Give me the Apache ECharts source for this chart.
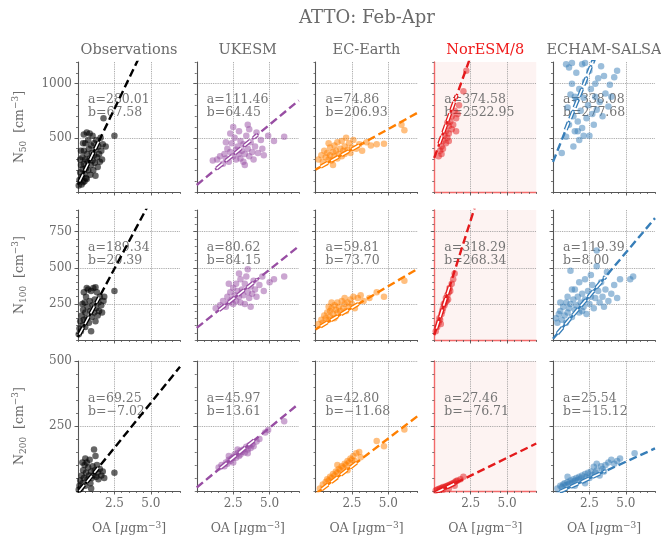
<!DOCTYPE html>
<html>
<head>
<meta charset="utf-8">
<script src="https://cdn.jsdelivr.net/npm/echarts@6/dist/echarts.min.js"></script>
<style>
  html, body { margin: 0; padding: 0; background: #ffffff; }
  #chart { width: 661px; height: 542px; }
</style>
</head>
<body>
<div id="chart"></div>
<script>
// ---- categories / labels ----
const chartTitle = 'ATTO: Feb-Apr';
const models = ['Observations', 'UKESM', 'EC-Earth', 'NorESM/8', 'ECHAM-SALSA'];
const modelColors = ['#000000', '#984ea3', '#ff7f00', '#e41a1c', '#377eb8'];
const interceptScale = [1, 1, 1, 8, 1];   // NorESM intercept is shown undivided
const sizeBins = ['50', '100', '200'];

// ---- axes ----
const xMax = 7;
const xMajorTicks = [2.5, 5.0];
const xMinorStep = 0.5;
const yMax = [1200, 900, 500];
const yMajorTicks = [[500, 1000], [250, 500, 750], [250, 500]];
const yMinorStep = [100, 50, 50];

// ---- regression fits: N = a * OA + b ----
const slopeN50 = [280.01, 111.46, 74.86, 374.58, 338.08];
const interceptN50 = [67.58, 64.45, 206.93, 2522.95, 277.68];
const slopeN100 = [189.34, 80.62, 59.81, 318.29, 119.39];
const interceptN100 = [20.39, 84.15, 73.70, 268.34, 8.00];
const slopeN200 = [69.25, 45.97, 42.80, 27.46, 25.54];
const interceptN200 = [-7.02, 13.61, -11.68, -76.71, -15.12];

// ---- scatter values [OA, N] ----
const obsN50 = [[0.05,60],[0.1,110],[0.15,180],[0.2,250],[0.25,140],[0.3,210],[0.3,320],[0.35,90],[0.4,260],[0.4,380],[0.45,170],[0.5,300],[0.5,450],[0.55,220],[0.6,120],[0.6,350],[0.65,280],[0.7,480],[0.7,200],[0.75,400],[0.8,310],[0.8,540],[0.85,160],[0.9,250],[0.9,430],[0.95,360],[1.0,290],[1.0,520],[1.05,200],[1.1,340],[1.1,450],[1.15,270],[1.2,390],[1.2,150],[1.25,480],[1.3,320],[1.35,230],[1.4,420],[1.45,350],[1.5,280],[1.55,500],[1.6,380],[1.65,300],[1.7,440],[1.75,680],[1.9,420],[2.5,520],[0.2,380],[0.4,530],[0.6,550],[0.15,300],[0.35,450],[0.55,130],[0.25,70],[0.45,100]];
const ukesmN50 = [[1.1,290],[1.4,300],[1.6,330],[1.8,260],[1.9,350],[2.0,310],[2.1,400],[2.2,280],[2.3,370],[2.4,450],[2.5,600],[2.5,330],[2.6,500],[2.7,390],[2.7,300],[2.8,420],[2.9,350],[3.0,470],[3.0,310],[3.1,380],[3.2,440],[3.2,280],[3.3,350],[3.4,520],[3.5,620],[3.5,400],[3.6,330],[3.7,460],[3.8,370],[3.9,300],[4.0,420],[4.1,550],[4.2,360],[4.4,480],[4.5,400],[4.6,340],[4.9,520],[5.3,470],[6.0,510],[2.3,540],[2.9,560],[3.3,250],[2.0,460],[3.6,580]];
const ecearthN50 = [[0.2,300],[0.4,340],[0.5,280],[0.6,380],[0.7,320],[0.8,360],[0.9,300],[1.0,410],[1.0,340],[1.1,290],[1.2,370],[1.3,330],[1.3,430],[1.4,380],[1.5,310],[1.5,460],[1.6,350],[1.7,400],[1.8,330],[1.8,470],[1.9,380],[2.0,420],[2.0,350],[2.1,500],[2.2,390],[2.3,450],[2.4,360],[2.5,410],[2.6,480],[2.8,400],[3.0,440],[3.2,380],[3.5,460],[3.8,430],[4.2,440],[4.7,445],[5.9,620],[6.1,570],[1.2,250],[0.9,450]];
const noresmN50 = [[0.3,330],[0.4,380],[0.5,420],[0.6,470],[0.6,400],[0.7,520],[0.8,450],[0.8,560],[0.9,500],[1.0,610],[1.0,540],[1.1,650],[1.2,580],[1.2,700],[1.3,620],[1.4,750],[1.5,680],[1.6,720],[1.7,800],[2.0,930],[2.2,1120],[0.5,350],[1.0,470],[1.5,560],[0.9,640]];
const echamN50 = [[0.6,360],[0.9,510],[1.1,620],[1.0,780],[1.2,900],[1.1,1150],[1.3,1000],[1.4,700],[1.4,420],[1.5,560],[1.6,850],[1.6,1100],[1.7,650],[1.8,950],[1.8,480],[1.9,750],[2.0,1180],[2.0,590],[2.1,520],[2.1,870],[2.2,1020],[2.3,680],[2.4,800],[2.5,520],[2.5,1120],[2.6,950],[2.7,720],[2.8,620],[2.9,880],[3.0,760],[3.1,1050],[3.2,830],[3.3,1160],[3.4,700],[3.5,1070],[3.6,910],[3.8,790],[4.0,880],[4.2,1060],[4.4,1120],[1.3,1190],[2.2,1190],[1.7,560],[2.9,1000],[0.9,1180],[1.5,880],[3.9,990]];

const obsN100 = [[0.05,40],[0.1,80],[0.15,130],[0.2,60],[0.25,170],[0.3,100],[0.35,210],[0.4,140],[0.45,260],[0.5,90],[0.5,190],[0.55,300],[0.6,150],[0.65,230],[0.7,350],[0.75,120],[0.8,270],[0.85,200],[0.9,340],[0.95,160],[1.0,240],[1.05,360],[1.1,190],[1.15,280],[1.2,130],[1.25,220],[1.3,330],[1.35,170],[1.4,260],[1.45,200],[1.5,300],[1.6,240],[1.65,190],[1.75,270],[1.8,300],[2.5,340],[0.3,250],[0.6,360],[0.9,60],[1.2,365],[0.4,330]];
const ukesmN100 = [[1.3,220],[1.6,240],[1.8,270],[2.0,230],[2.1,300],[2.2,260],[2.3,330],[2.4,280],[2.5,360],[2.5,250],[2.6,310],[2.7,390],[2.7,270],[2.8,340],[2.9,300],[3.0,420],[3.0,260],[3.1,350],[3.2,310],[3.3,390],[3.3,250],[3.4,440],[3.5,490],[3.5,330],[3.6,290],[3.7,370],[3.8,320],[3.9,410],[4.0,350],[4.1,300],[4.3,380],[4.5,440],[4.6,340],[5.0,400],[5.3,420],[6.0,440],[2.2,390],[2.9,460],[3.7,230]];
const ecearthN100 = [[0.2,110],[0.4,140],[0.5,120],[0.6,170],[0.7,150],[0.8,190],[0.9,140],[1.0,200],[1.0,160],[1.1,220],[1.2,180],[1.3,240],[1.3,150],[1.4,210],[1.5,190],[1.5,260],[1.6,230],[1.7,200],[1.8,270],[1.9,220],[2.0,250],[2.0,290],[2.1,200],[2.2,260],[2.3,230],[2.4,280],[2.5,250],[2.6,300],[2.7,220],[2.9,290],[3.1,310],[3.3,270],[3.7,290],[4.2,330],[4.7,300],[6.1,410],[1.1,260],[0.9,230]];
const noresmN100 = [[0.1,60],[0.2,90],[0.3,120],[0.35,150],[0.4,140],[0.5,180],[0.55,200],[0.6,220],[0.7,240],[0.75,260],[0.8,290],[0.85,270],[0.9,310],[1.0,330],[1.05,360],[1.1,340],[1.2,390],[1.3,420],[1.4,460],[0.45,110],[0.65,250],[0.95,280]];
const echamN100 = [[0.2,150],[0.3,120],[0.4,180],[0.5,200],[0.6,140],[0.7,230],[0.8,170],[0.9,260],[1.0,190],[1.0,300],[1.1,220],[1.2,480],[1.2,250],[1.3,160],[1.4,280],[1.5,210],[1.5,350],[1.6,240],[1.7,300],[1.8,190],[1.8,400],[1.9,260],[2.0,320],[2.1,230],[2.2,420],[2.2,280],[2.3,180],[2.4,340],[2.5,250],[2.6,300],[2.7,380],[2.8,220],[2.9,290],[3.0,510],[3.0,620],[3.1,340],[3.2,260],[3.3,400],[3.4,300],[3.5,230],[3.6,350],[3.7,470],[3.8,270],[4.0,320],[4.2,380],[4.4,290],[4.6,420],[5.3,420],[5.5,440],[0.5,260],[0.9,120],[1.3,350],[2.0,200],[2.6,450]];

const obsN200 = [[0.05,5],[0.1,20],[0.15,40],[0.2,10],[0.25,60],[0.3,30],[0.35,80],[0.4,50],[0.45,100],[0.5,20],[0.55,70],[0.6,110],[0.65,45],[0.7,90],[0.75,60],[0.8,120],[0.85,30],[0.9,75],[0.95,50],[1.0,95],[1.05,60],[1.1,160],[1.15,80],[1.2,135],[1.25,55],[1.3,100],[1.35,70],[1.4,45],[1.5,85],[1.6,60],[1.7,75],[1.8,50],[2.5,70],[0.3,110],[0.5,125],[0.9,10]];
const ukesmN200 = [[1.5,90],[1.7,100],[1.9,95],[2.0,110],[2.1,105],[2.2,120],[2.3,115],[2.4,125],[2.5,130],[2.5,110],[2.6,140],[2.7,128],[2.8,145],[2.9,135],[3.0,155],[3.0,140],[3.1,150],[3.2,160],[3.3,148],[3.4,170],[3.5,160],[3.6,175],[3.7,165],[3.8,180],[3.9,172],[4.1,190],[4.3,200],[4.7,225],[4.9,235],[6.0,268],[2.2,135],[2.8,160],[3.5,145]];
const ecearthN200 = [[0.3,10],[0.5,25],[0.7,35],[0.8,45],[0.9,40],[1.0,55],[1.1,50],[1.2,65],[1.3,60],[1.4,75],[1.5,70],[1.6,85],[1.7,80],[1.8,95],[1.9,90],[2.0,105],[2.1,100],[2.2,115],[2.3,110],[2.4,125],[2.5,120],[2.6,135],[2.7,115],[2.8,145],[3.0,150],[3.1,130],[4.2,192],[4.7,172],[6.1,237],[1.5,100],[2.2,80]];
const noresmN200 = [[0.1,2],[0.2,5],[0.3,8],[0.4,10],[0.5,12],[0.6,15],[0.7,14],[0.8,18],[0.9,20],[1.0,22],[1.1,25],[1.2,28],[1.3,30],[1.4,34],[1.5,38],[1.6,40],[1.8,45],[2.0,55],[0.6,5],[1.0,10],[1.4,20]];
const echamN200 = [[0.3,10],[0.5,20],[0.6,15],[0.7,25],[0.8,30],[0.9,22],[1.0,35],[1.1,28],[1.2,40],[1.3,32],[1.4,45],[1.5,38],[1.6,50],[1.7,42],[1.8,55],[1.9,48],[2.0,60],[2.1,40],[2.2,65],[2.3,55],[2.4,70],[2.5,50],[2.6,75],[2.7,62],[2.8,93],[2.9,70],[3.0,80],[3.2,60],[3.3,95],[3.4,85],[3.5,75],[3.6,100],[3.8,110],[4.0,120],[4.2,105],[4.4,115],[4.6,125],[5.6,145],[1.0,55],[1.5,20],[2.2,30],[3.0,105]];

const pointsByRow = [
  [obsN50, ukesmN50, ecearthN50, noresmN50, echamN50],
  [obsN100, ukesmN100, ecearthN100, noresmN100, echamN100],
  [obsN200, ukesmN200, ecearthN200, noresmN200, echamN200]
];
const slopesByRow = [slopeN50, slopeN100, slopeN200];
const interceptsByRow = [interceptN50, interceptN100, interceptN200];

// ---- layout ----
const FONT = 'DejaVu Serif';
const TEXT_GREY = '#6b6b6b';
const AXIS_GREY = '#555555';
const NOR_RED = '#f26a6a';
const gridLeft0 = 78, gridStep = 118.75, gridW = 102, gridH = 130;
const rowTops = [62, 210, 361];

const fmt = v => (v < 0 ? '\u2212' : '') + Math.abs(v).toFixed(2);

function quantile(sorted, q) {
  const pos = (sorted.length - 1) * q;
  const lo = Math.floor(pos), hi = Math.ceil(pos);
  return sorted[lo] + (sorted[hi] - sorted[lo]) * (pos - lo);
}

const grids = [], xAxes = [], yAxes = [], series = [], graphics = [];

for (let r = 0; r < 3; r++) {
  for (let c = 0; c < 5; c++) {
    const p = r * 5 + c;
    const left = gridLeft0 + c * gridStep;
    const top = rowTops[r];
    const isNor = c === 3;
    const spine = isNor ? NOR_RED : AXIS_GREY;
    grids.push({
      left: left, top: top, width: gridW, height: gridH,
      show: isNor, backgroundColor: '#fdf3f2', borderWidth: 0
    });

    // minor-tick axes (carry the spine)
    xAxes.push({
      type: 'value', gridIndex: p, position: 'bottom', min: 0, max: xMax, interval: xMinorStep,
      axisLine: { show: true, onZero: false, lineStyle: { color: spine, width: isNor ? 1.4 : 1.1 } },
      axisTick: { show: true, length: 2, lineStyle: { color: AXIS_GREY, width: 0.8 } },
      axisLabel: { show: false }, splitLine: { show: false }
    });
    yAxes.push({
      type: 'value', gridIndex: p, position: 'left', min: 0, max: yMax[r], interval: yMinorStep[r],
      axisLine: { show: true, onZero: false, lineStyle: { color: spine, width: isNor ? 1.4 : 1.1 } },
      axisTick: { show: true, length: 2, lineStyle: { color: AXIS_GREY, width: 0.8 } },
      axisLabel: { show: false }, splitLine: { show: false }
    });
    // major-tick axes (labels and dotted grid)
    xAxes.push({
      type: 'value', gridIndex: p, position: 'bottom', min: 0, max: xMax, interval: 2.5,
      axisLine: { show: false, onZero: false },
      axisTick: { show: true, length: 3.5, customValues: xMajorTicks, lineStyle: { color: AXIS_GREY, width: 0.9 } },
      axisLabel: {
        show: r === 2, customValues: xMajorTicks, margin: 7,
        formatter: v => v.toFixed(1), color: TEXT_GREY, fontFamily: FONT, fontSize: 12
      },
      splitLine: { show: true, lineStyle: { type: 'dotted', color: '#9a9a9a', width: 0.9 } }
    });
    yAxes.push({
      type: 'value', gridIndex: p, position: 'left', min: 0, max: yMax[r], interval: yMajorTicks[r][0],
      axisLine: { show: false, onZero: false },
      axisTick: { show: true, length: 3.5, customValues: yMajorTicks[r], lineStyle: { color: AXIS_GREY, width: 0.9 } },
      axisLabel: {
        show: c === 0, customValues: yMajorTicks[r], margin: 6, formatter: v => String(v),
        color: TEXT_GREY, fontFamily: FONT, fontSize: 12
      },
      splitLine: { show: true, lineStyle: { type: 'dotted', color: '#9a9a9a', width: 0.9 } }
    });

    const color = modelColors[c];
    const pts = pointsByRow[r][c];
    const a = slopesByRow[r][c];
    const b = interceptsByRow[r][c];
    const b0 = b / interceptScale[c];
    const fitAt = x => a * x + b0;

    series.push({
      type: 'scatter', xAxisIndex: 2 * p + 1, yAxisIndex: 2 * p + 1,
      data: pts, symbolSize: 6.5, clip: true, silent: true, z: 2,
      itemStyle: { color: color, opacity: c === 0 ? 0.6 : 0.5 }
    });
    // fit over the full axis range
    series.push({
      type: 'line', xAxisIndex: 2 * p + 1, yAxisIndex: 2 * p + 1,
      data: [[0, fitAt(0)], [xMax, fitAt(xMax)]], symbol: 'none', clip: true, silent: true, z: 3,
      lineStyle: { color: color, width: 2.4, type: [8, 4] }
    });
    // highlighted fit over the bulk of the data
    const xs = pts.map(d => d[0]).sort((u, v) => u - v);
    const x0 = quantile(xs, 0.02), x1 = quantile(xs, 0.85);
    const seg = [[x0, fitAt(x0)], [x1, fitAt(x1)]];
    series.push({
      type: 'line', xAxisIndex: 2 * p + 1, yAxisIndex: 2 * p + 1,
      data: seg, symbol: 'none', clip: true, silent: true, z: 4,
      lineStyle: { color: color, width: 4.2, type: [8, 4] }
    });
    series.push({
      type: 'line', xAxisIndex: 2 * p + 1, yAxisIndex: 2 * p + 1,
      data: seg, symbol: 'none', clip: true, silent: true, z: 5,
      lineStyle: { color: '#ffffff', width: 1.6, type: [8, 4] }
    });

    // fit coefficients
    graphics.push({
      type: 'text', z: 1, x: left + 10, y: top + 31.5,
      style: {
        text: 'a=' + fmt(a) + '\nb=' + fmt(b),
        fill: '#757575', font: '12.5px "' + FONT + '"', lineHeight: 13,
        align: 'left', verticalAlign: 'top'
      }
    });
  }
}

// column titles and x-axis names
for (let c = 0; c < 5; c++) {
  graphics.push({
    type: 'text', x: gridLeft0 + c * gridStep + gridW / 2, y: 50,
    style: {
      text: models[c], fill: c === 3 ? '#f01818' : TEXT_GREY,
      font: '14.5px "' + FONT + '"', align: 'center', verticalAlign: 'middle'
    }
  });
  graphics.push({
    type: 'text', x: gridLeft0 + c * gridStep + gridW / 2, y: 529,
    style: {
      text: '{t|OA [}{m|\u03bc}{t|gm}{p|\u22123}{t|]}',
      align: 'center', verticalAlign: 'middle',
      rich: {
        t: { fill: TEXT_GREY, fontFamily: FONT, fontSize: 12.5, lineHeight: 16 },
        m: { fill: TEXT_GREY, fontFamily: FONT, fontSize: 12.5, fontStyle: 'italic', lineHeight: 16 },
        p: { fill: TEXT_GREY, fontFamily: FONT, fontSize: 9, lineHeight: 10, verticalAlign: 'top' }
      }
    }
  });
}

// row labels
for (let r = 0; r < 3; r++) {
  graphics.push({
    type: 'text', x: 20, y: rowTops[r] + gridH / 2, rotation: Math.PI / 2,
    style: {
      text: '{t|N}{s|' + sizeBins[r] + '}{t|  [cm}{p|\u22123}{t|]}',
      align: 'center', verticalAlign: 'middle',
      rich: {
        t: { fill: TEXT_GREY, fontFamily: FONT, fontSize: 12.5, lineHeight: 17 },
        s: { fill: TEXT_GREY, fontFamily: FONT, fontSize: 9, lineHeight: 10, verticalAlign: 'bottom' },
        p: { fill: TEXT_GREY, fontFamily: FONT, fontSize: 9, lineHeight: 10, verticalAlign: 'top' }
      }
    }
  });
}

// figure title
graphics.push({
  type: 'text', x: 367, y: 18,
  style: { text: chartTitle, fill: '#6a6a6a', font: '18px "' + FONT + '"', align: 'center', verticalAlign: 'middle' }
});

const chart = echarts.init(document.getElementById('chart'), null, { renderer: 'canvas' });
chart.setOption({
  animation: false,
  backgroundColor: '#ffffff',
  grid: grids,
  xAxis: xAxes,
  yAxis: yAxes,
  series: series,
  graphic: { elements: graphics }
});
</script>
</body>
</html>
